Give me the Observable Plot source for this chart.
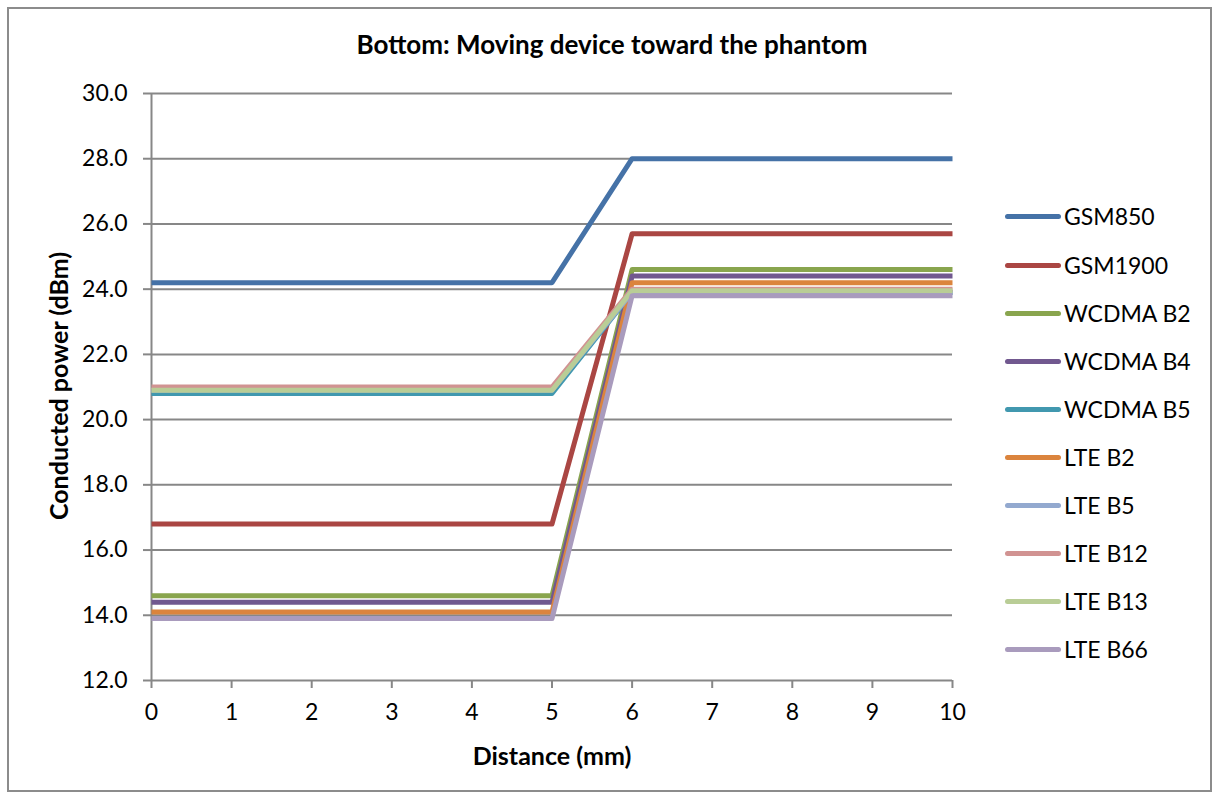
<!DOCTYPE html>
<html>
<head>
<meta charset="utf-8">
<script src="https://cdn.jsdelivr.net/npm/d3@7"></script>
<script src="https://cdn.jsdelivr.net/npm/@observablehq/plot@0.6"></script>
<style>
  html, body { margin: 0; padding: 0; background: #fff; }
  #wrap { position: relative; width: 1217px; height: 800px; font-family: Lato, "Open Sans", sans-serif; color: #000; }
  #frame { position: absolute; left: 7px; top: 7px; width: 1201px; height: 781px; border: 2px solid #8c8c8c; box-sizing: content-box; pointer-events: none; }
  #chart { position: absolute; left: 0; top: 0; }
  .title { position: absolute; left: 612px; top: 44px; transform: translate(-50%, -50%); font-weight: bold; font-size: 26px; white-space: nowrap; }
  .xlabel { position: absolute; left: 552px; top: 755px; transform: translate(-50%, -50%); font-weight: bold; font-size: 25px; white-space: nowrap; }
  .ylabel { position: absolute; left: 58px; top: 386px; transform: translate(-50%, -50%) rotate(-90deg); font-weight: bold; font-size: 25px; white-space: nowrap; }
  .leg { position: absolute; left: 1005px; display: flex; align-items: center; height: 28px; transform: translateY(-50%); font-size: 23px; white-space: nowrap; }
  .leg .sw { width: 56px; height: 5px; border-radius: 3px; margin-right: 3px; }
</style>
</head>
<body>
<div id="wrap">
  <div id="chart"></div>
  <div id="frame"></div>
  <div class="title">Bottom: Moving device toward the phantom</div>
  <div class="xlabel">Distance (mm)</div>
  <div class="ylabel">Conducted power (dBm)</div>
</div>
<script>
const distance = [0, 1, 2, 3, 4, 5, 6, 7, 8, 9, 10];
const seriesNames = ["GSM850", "GSM1900", "WCDMA B2", "WCDMA B4", "WCDMA B5", "LTE B2", "LTE B5", "LTE B12", "LTE B13", "LTE B66"];
const seriesColors = ["#4572A7", "#AA4643", "#89A54E", "#71588F", "#4198AF", "#DB843D", "#93A9CF", "#D19392", "#B9CD96", "#A99BBD"];

const gsm850   = [24.2, 24.2, 24.2, 24.2, 24.2, 24.2, 28.0, 28.0, 28.0, 28.0, 28.0];
const gsm1900  = [16.8, 16.8, 16.8, 16.8, 16.8, 16.8, 25.7, 25.7, 25.7, 25.7, 25.7];
const wcdmaB2  = [14.6, 14.6, 14.6, 14.6, 14.6, 14.6, 24.6, 24.6, 24.6, 24.6, 24.6];
const wcdmaB4  = [14.4, 14.4, 14.4, 14.4, 14.4, 14.4, 24.4, 24.4, 24.4, 24.4, 24.4];
const wcdmaB5  = [20.8, 20.8, 20.8, 20.8, 20.8, 20.8, 23.9, 23.9, 23.9, 23.9, 23.9];
const lteB2    = [14.1, 14.1, 14.1, 14.1, 14.1, 14.1, 24.2, 24.2, 24.2, 24.2, 24.2];
const lteB5    = [20.9, 20.9, 20.9, 20.9, 20.9, 20.9, 23.9, 23.9, 23.9, 23.9, 23.9];
const lteB12   = [21.0, 21.0, 21.0, 21.0, 21.0, 21.0, 24.0, 24.0, 24.0, 24.0, 24.0];
const lteB13   = [20.9, 20.9, 20.9, 20.9, 20.9, 20.9, 23.95, 23.95, 23.95, 23.95, 23.95];
const lteB66   = [13.9, 13.9, 13.9, 13.9, 13.9, 13.9, 23.8, 23.8, 23.8, 23.8, 23.8];

const seriesValues = [gsm850, gsm1900, wcdmaB2, wcdmaB4, wcdmaB5, lteB2, lteB5, lteB12, lteB13, lteB66];
const yTicks = [12, 14, 16, 18, 20, 22, 24, 26, 28, 30];

const data = [];
seriesNames.forEach((name, i) => {
  distance.forEach((d, j) => data.push({series: name, distance: d, power: seriesValues[i][j]}));
});

const chart = Plot.plot({
  width: 1217,
  height: 800,
  marginLeft: 151,
  marginRight: 265,
  marginTop: 93,
  marginBottom: 120,
  style: {fontFamily: "Lato, 'Open Sans', sans-serif", fontSize: "23px", color: "#000", background: "transparent"},
  x: {domain: [0, 10], ticks: distance},
  y: {domain: [12, 30], ticks: yTicks},
  color: {domain: seriesNames, range: seriesColors},
  marks: [
    Plot.gridY(yTicks, {stroke: "#878787", strokeOpacity: 1, strokeWidth: 2}),
    Plot.ruleX([0], {stroke: "#878787", strokeWidth: 2}),
    Plot.axisY(yTicks, {tickSize: 8, tickPadding: 16, tickFormat: d3.format(".1f"), stroke: "#878787", strokeWidth: 2, label: null, fontSize: 23, fill: "#000"}),
    Plot.axisX(distance, {tickSize: 8, tickPadding: 15, stroke: "#878787", strokeWidth: 2, label: null, fontSize: 23, fill: "#000"}),
    Plot.line(data, {x: "distance", y: "power", z: "series", stroke: "series", strokeWidth: 5, strokeLinejoin: "round", strokeLinecap: "butt"})
  ]
});
document.getElementById("chart").appendChild(chart);

const legendY = [216, 265, 313, 361, 409, 457, 505, 553, 601, 649];
const wrap = document.getElementById("wrap");
seriesNames.forEach((name, i) => {
  const row = document.createElement("div");
  row.className = "leg";
  row.style.top = legendY[i] + "px";
  const sw = document.createElement("div");
  sw.className = "sw";
  sw.style.background = seriesColors[i];
  const tx = document.createElement("span");
  tx.textContent = name;
  row.appendChild(sw);
  row.appendChild(tx);
  wrap.appendChild(row);
});
</script>
</body>
</html>
